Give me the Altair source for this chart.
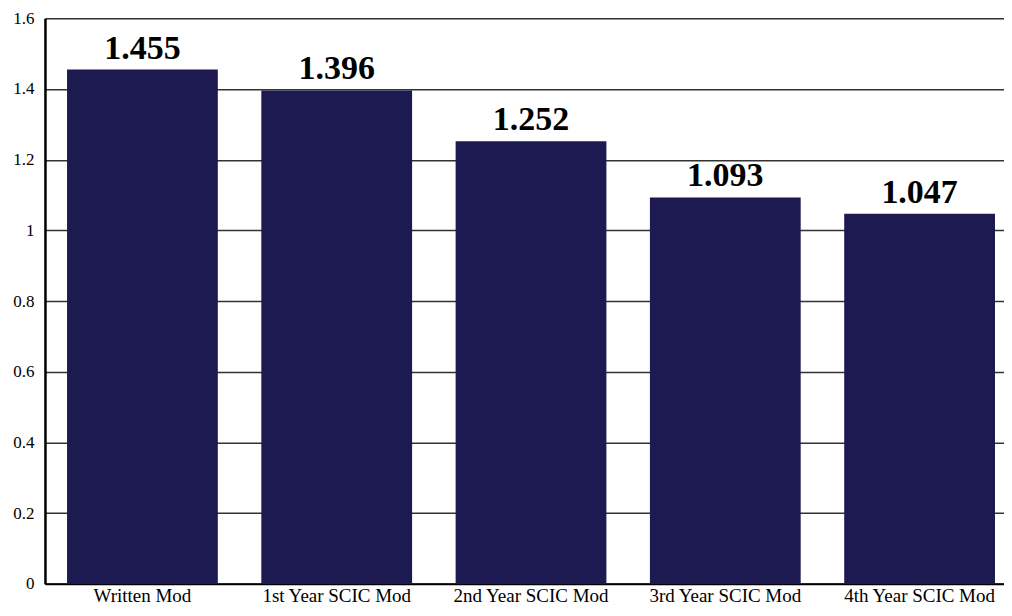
import altair as alt
import pandas as pd

categories = ["Written Mod", "1st Year SCIC Mod", "2nd Year SCIC Mod", "3rd Year SCIC Mod", "4th Year SCIC Mod"]
values = [1.455, 1.396, 1.252, 1.093, 1.047]
labels = ["1.455", "1.396", "1.252", "1.093", "1.047"]

df = pd.DataFrame({"cat": categories, "val": values, "lab": labels})

SERIF = "Liberation Serif, Times New Roman, DejaVu Serif, serif"

x = alt.X("cat:N", sort=categories, title=None,
          scale=alt.Scale(paddingInner=0.224, paddingOuter=0.08, align=0.71),
          axis=alt.Axis(labelAngle=0, labelFont=SERIF, labelFontSize=19,
                        labelColor="#000", domainColor="#000", domainWidth=2,
                        ticks=False, labelPadding=3, grid=False, labelBaseline="top"))
y = alt.Y("val:Q", title=None,
          scale=alt.Scale(domain=[0, 1.6], nice=False),
          axis=alt.Axis(values=[0, 0.2, 0.4, 0.6, 0.8, 1.0, 1.2, 1.4, 1.6],
                        labelExpr="datum.value == 0 ? '0' : (datum.value == 1 ? '1' : format(datum.value, '.1f'))",
                        labelFont=SERIF, labelFontSize=17, labelColor="#000",
                        ticks=False, labelPadding=11, domainColor="#000", domainWidth=2.5,
                        gridColor="#333", gridWidth=1.5, gridOpacity=1))

bars = alt.Chart(df).mark_bar(color="#1c1a50").encode(x=x, y=y)
text = alt.Chart(df).mark_text(font=SERIF, fontSize=34, fontWeight="bold",
                               baseline="bottom", dy=-4, color="#000").encode(
    x=alt.X("cat:N", sort=categories), y="val:Q", text="lab:N")

chart = (bars + text).properties(
    width=960, height=566,
    autosize=alt.AutoSizeParams(type="none"),
    padding={"left": 37, "top": 10, "right": 0, "bottom": 24},
).configure_view(stroke=None).configure(background="white")

chart.save("out.html", embed_options={"renderer": "svg", "actions": False})
